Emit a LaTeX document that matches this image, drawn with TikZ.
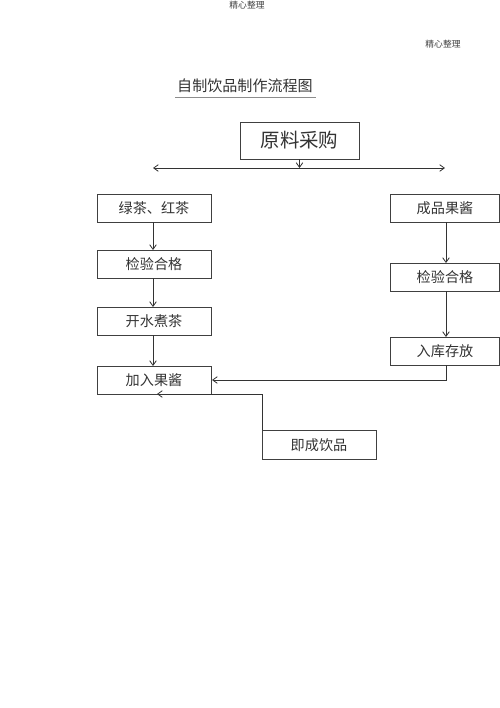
\documentclass[tikz,border=0pt]{standalone}
\usepackage{fontspec}
\newfontfamily\cjk{Noto Sans CJK SC}
\usetikzlibrary{arrows.meta}
\begin{document}
\begin{tikzpicture}[x=0.75pt,y=-0.75pt,
  box/.style={draw=black!75,line width=0.6pt,inner sep=0pt},
  lbl/.style={font=\cjk\fontsize{10.6pt}{12pt}\selectfont,text=black!80},
  conn/.style={draw=black!80,line width=0.6pt,-{Straight Barb[length=3.5pt,width=5pt]}},
  note/.style={font=\cjk\fontsize{6.6pt}{8pt}\selectfont,text=black!75}]
\useasboundingbox (0,0) rectangle (500,708);
% headers
\node[note] (h1) at (247,5) {精心整理};
\node[note] (h2) at (443,44) {精心整理};
% title
\node[font=\cjk\fontsize{11.3pt}{13pt}\selectfont,text=black!80] (title) at (245,86) {自制饮品制作流程图};
\draw[black!45,line width=0.4pt] (175,97) -- (316,97);
% top box
\draw[box] (240,122) rectangle (359,159);
\node[font=\cjk\fontsize{14.6pt}{16pt}\selectfont,text=black!80] (src) at (299.5,140.5) {原料采购};
\coordinate (srcb) at (299.5,159);
\coordinate (mid) at (299.5,168);
\coordinate (lend) at (153,168);
\coordinate (rend) at (445,168);
\draw[conn] (srcb) -- (mid);
\draw[conn] (mid) -- (lend);
\draw[conn] (mid) -- (rend);
% left column
\draw[box] (97,194) rectangle (211,222);
\node[lbl] (l1) at (154,208) {绿茶、红茶};
\draw[box] (97,250) rectangle (211,278);
\node[lbl] (l2) at (154,264) {检验合格};
\draw[box] (97,307) rectangle (211,335);
\node[lbl] (l3) at (154,321) {开水煮茶};
\draw[box] (97,366) rectangle (211,394);
\node[lbl] (l4) at (154,380) {加入果酱};
\coordinate (l1b) at (153,222); \coordinate (l2t) at (153,250);
\coordinate (l2b) at (153,278); \coordinate (l3t) at (153,307);
\coordinate (l3b) at (153,335); \coordinate (l4t) at (153,366);
\draw[conn] (l1b) -- (l2t);
\draw[conn] (l2b) -- (l3t);
\draw[conn] (l3b) -- (l4t);
% right column
\draw[box] (390,194) rectangle (499,222);
\node[lbl] (r1) at (445,208) {成品果酱};
\draw[box] (390,263) rectangle (499,291);
\node[lbl] (r2) at (445,277) {检验合格};
\draw[box] (390,337) rectangle (499,365);
\node[lbl] (r3) at (445,351) {入库存放};
\coordinate (r1b) at (446,222); \coordinate (r2t) at (446,263);
\coordinate (r2b) at (446,291); \coordinate (r3t) at (446,337);
\coordinate (r3b) at (446,365); \coordinate (l4r) at (212,380);
\draw[conn] (r1b) -- (r2t);
\draw[conn] (r2b) -- (r3t);
\draw[conn] (r3b) |- (l4r);
% final box
\draw[box] (262,430) rectangle (376,459);
\node[lbl] (fin) at (319,445) {即成饮品};
\coordinate (fint) at (262.5,430);
\coordinate (l4b) at (157,394);
\draw[conn] (fint) |- (l4b);
\end{tikzpicture}
\end{document}
